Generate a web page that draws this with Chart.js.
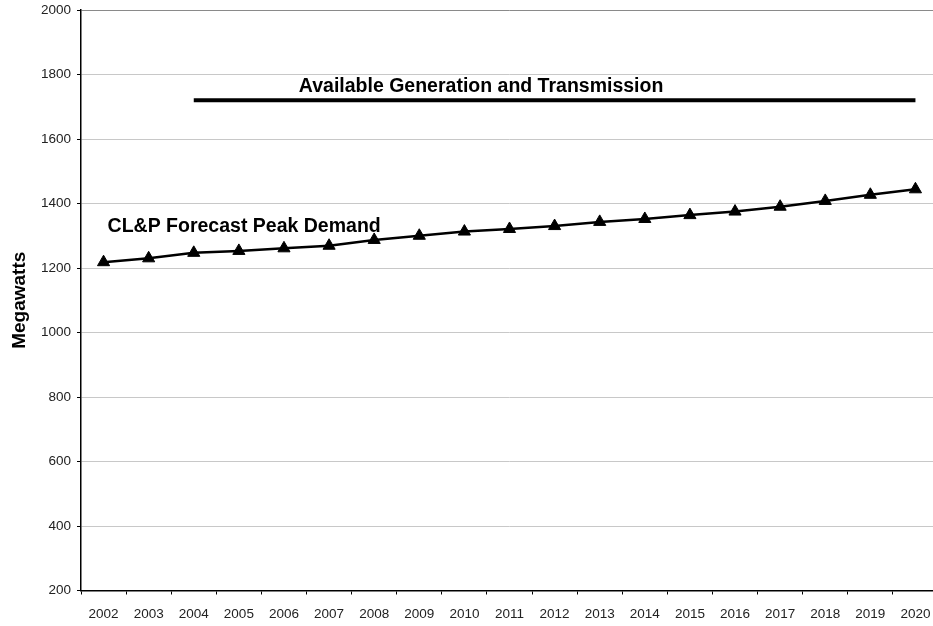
<!DOCTYPE html>
<html>
<head>
<meta charset="utf-8">
<script src="https://cdn.jsdelivr.net/npm/chart.js@4/dist/chart.umd.min.js"></script>
<style>
  html, body { margin: 0; padding: 0; background: #fff; overflow: hidden; }
  #wrap { width: 940px; height: 626px; }
</style>
</head>
<body>
<div id="wrap"><canvas id="chart" width="940" height="626"></canvas></div>
<script>
// Peak demand forecast vs available capacity
const years = ['2002', '2003', '2004', '2005', '2006', '2007', '2008', '2009', '2010', '2011',
  '2012', '2013', '2014', '2015', '2016', '2017', '2018', '2019', '2020'];
const peakDemand = [1218, 1230, 1247, 1253, 1261, 1269, 1287, 1300, 1313, 1321,
  1330, 1343, 1352, 1364, 1375, 1390, 1408, 1427, 1444];
const availableCapacity = [null, null, 1720, 1720, 1720, 1720, 1720, 1720, 1720, 1720,
  1720, 1720, 1720, 1720, 1720, 1720, 1720, 1720, 1720];
const yTicks = { min: 200, max: 2000, step: 200 };

// text labels placed in data coordinates (category index, value)
const notes = [
  { text: 'Available Generation and Transmission', at: 4.33, value: 1747 },
  { text: 'CL&P Forecast Peak Demand', at: 0.09, value: 1311 },
];

const FONT = '"Liberation Sans", Arial, Helvetica, sans-serif';

const notesPlugin = {
  id: 'notes',
  afterDatasetsDraw(chart) {
    const { ctx, scales } = chart;
    ctx.save();
    ctx.font = 'bold 19.5px ' + FONT;
    ctx.fillStyle = '#000';
    ctx.textAlign = 'left';
    ctx.textBaseline = 'alphabetic';
    notes.forEach(n => {
      ctx.fillText(n.text, scales.x.getPixelForValue(n.at), scales.y.getPixelForValue(n.value));
    });
    ctx.restore();
  }
};

new Chart(document.getElementById('chart'), {
  type: 'line',
  data: {
    labels: years,
    datasets: [
      {
        label: 'CL&P Forecast Peak Demand',
        data: peakDemand,
        borderColor: '#000',
        borderWidth: 2.5,
        pointStyle: 'triangle',
        pointRadius: 7,
        pointBackgroundColor: '#000',
        pointBorderColor: '#000',
        pointBorderWidth: 1,
        tension: 0,
      },
      {
        label: 'Available Generation and Transmission',
        data: availableCapacity,
        borderColor: '#000',
        borderWidth: 4,
        pointRadius: 0,
        spanGaps: false,
        tension: 0,
      },
    ],
  },
  options: {
    responsive: false,
    animation: false,
    layout: { autoPadding: false, padding: { top: 10, right: 2, left: 0, bottom: 0 } },
    plugins: {
      legend: { display: false },
      tooltip: { enabled: false },
    },
    scales: {
      x: {
        offset: true,
        grid: {
          offset: true,
          drawOnChartArea: false,
          drawTicks: true,
          tickLength: 4,
          tickColor: '#000',
        },
        border: { color: '#000', width: 1.5 },
        ticks: {
          color: '#222',
          font: { family: FONT, size: 13.5 },
          autoSkip: false,
          maxRotation: 0,
          padding: 12,
        },
        afterFit: s => {
          s.height = 35.5;
          s.paddingLeft = 0;
          s.paddingRight = 0;
        },
      },
      y: {
        min: yTicks.min,
        max: yTicks.max,
        ticks: {
          stepSize: yTicks.step,
          color: '#222',
          font: { family: FONT, size: 13.5 },
          padding: 6,
          callback: v => String(v),
        },
        grid: {
          color: c => (c.tick && c.tick.value === yTicks.max ? '#8a8a8a' : '#c8c8c8'),
          lineWidth: 1,
          tickLength: 4,
          tickColor: '#000',
        },
        border: { color: '#000', width: 1.5 },
        title: {
          display: true,
          text: 'Megawatts',
          color: '#000',
          font: { family: FONT, size: 19, weight: 'bold' },
          padding: { top: 8, bottom: 0 },
        },
        afterFit: s => {
          s.width = 81;
          s.paddingTop = 0;
          s.paddingBottom = 0;
        },
      },
    },
  },
  plugins: [notesPlugin],
});
</script>
</body>
</html>
